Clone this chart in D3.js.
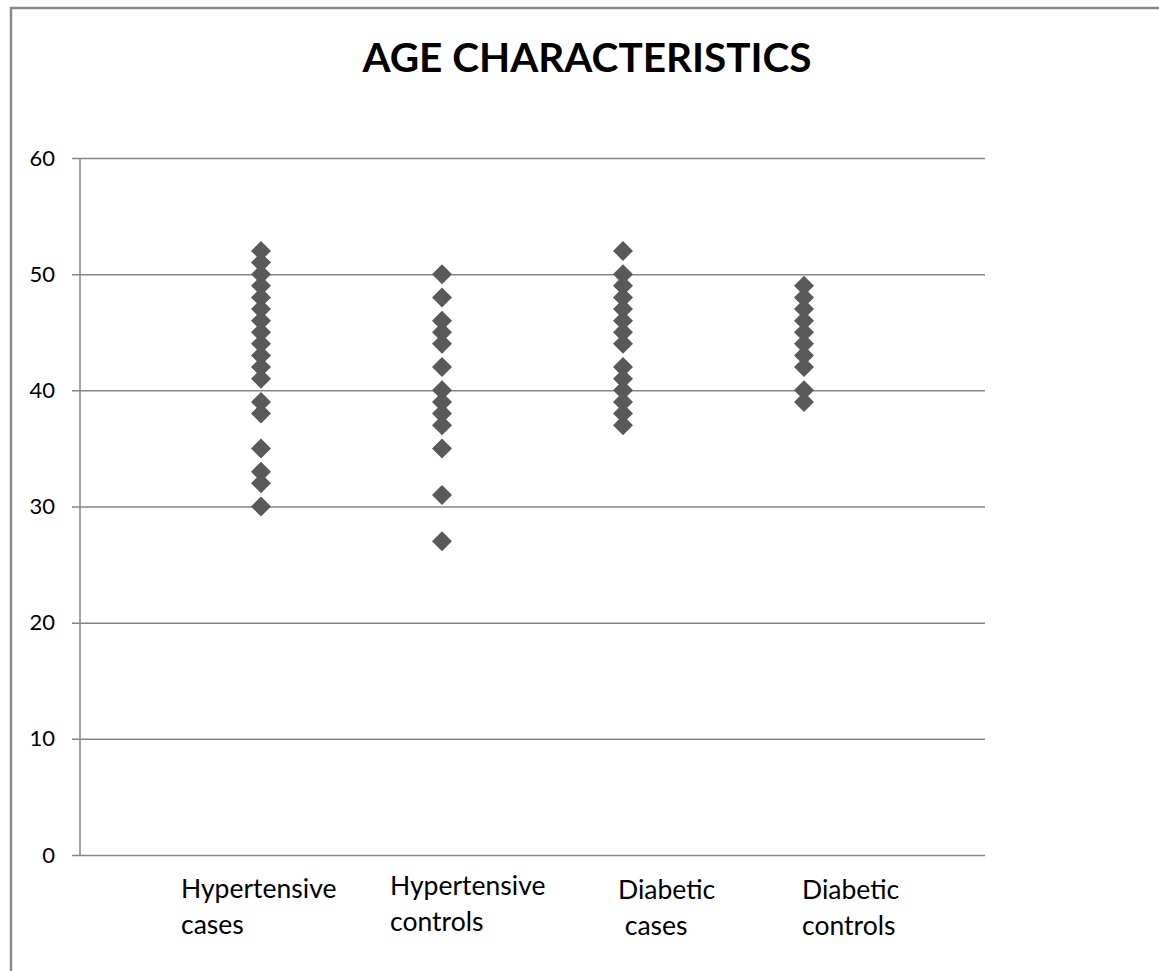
<!DOCTYPE html>
<html>
<head>
<meta charset="utf-8">
<script src="https://cdn.jsdelivr.net/npm/d3@7"></script>
<style>
  html, body { margin: 0; padding: 0; background: #fff; }
  svg { display: block; }
  text { font-family: Lato, "Open Sans", sans-serif; fill: #000; }
</style>
</head>
<body>
<svg id="chart" width="1159" height="971"></svg>
<script>
// Age (years) of each participant, by study group
const categories = ["Hypertensive cases", "Hypertensive controls", "Diabetic cases", "Diabetic controls"];
const hypertensiveCases = [52, 51, 50, 49, 48, 47, 46, 45, 44, 43, 42, 41, 39, 38, 35, 33, 32, 30];
const hypertensiveControls = [50, 48, 46, 45, 44, 42, 40, 39, 38, 37, 35, 31, 27];
const diabeticCases = [52, 50, 49, 48, 47, 46, 45, 44, 42, 41, 40, 39, 38, 37];
const diabeticControls = [49, 48, 47, 46, 45, 44, 43, 42, 40, 39];
const yTicks = [0, 10, 20, 30, 40, 50, 60];
// Category captions, broken over two lines
const categoryLines = [["Hypertensive", "cases"], ["Hypertensive", "controls"], ["Diabetic", " cases"], ["Diabetic", "controls"]];

const groups = [hypertensiveCases, hypertensiveControls, diabeticCases, diabeticControls];

// layout
const plot = { left: 80, right: 985, top: 158, bottom: 855 };
const captionLeft = [181, 390, 618, 802];
const captionBase = [898, 895, 899, 899];
const lineGap = 36;

const svg = d3.select("#chart");

// outer chart border
svg.append("rect")
  .attr("x", 11).attr("y", 8)
  .attr("width", 1200).attr("height", 1000)
  .attr("fill", "#fff")
  .attr("stroke", "#8a8a8a")
  .attr("stroke-width", 2.5);

const x = d3.scaleLinear().domain([0, categories.length + 1]).range([plot.left, plot.right]);
const y = d3.scaleLinear().domain([0, 60]).range([plot.bottom, plot.top]);

// horizontal gridlines + y axis labels
const yAxis = d3.axisLeft(y)
  .tickValues(yTicks)
  .tickSize(-(plot.right - plot.left))
  .tickPadding(25)
  .tickFormat(d3.format("d"));

const gy = svg.append("g")
  .attr("transform", `translate(${plot.left},0)`)
  .call(yAxis);
gy.select(".domain").remove();
gy.selectAll(".tick line")
  .attr("x1", -8)
  .attr("stroke", "#868686")
  .attr("stroke-width", 1.5);
gy.selectAll(".tick text")
  .attr("font-size", 22)
  .attr("font-family", "Lato, sans-serif")
  .attr("fill", "#000");

// vertical axis line
svg.append("line")
  .attr("x1", plot.left).attr("x2", plot.left)
  .attr("y1", y(60)).attr("y2", y(0))
  .attr("stroke", "#868686")
  .attr("stroke-width", 1.5);

// diamond markers
const diamond = d3.symbol().type(d3.symbolSquare).size(200);
groups.forEach((vals, i) => {
  svg.append("g")
    .selectAll("path")
    .data(vals)
    .join("path")
    .attr("d", diamond)
    .attr("transform", d => `translate(${x(i + 1)},${y(d)}) rotate(45)`)
    .attr("fill", "#595959");
});

// title
svg.append("text")
  .attr("x", 587).attr("y", 72)
  .attr("text-anchor", "middle")
  .attr("font-size", 40.5)
  .attr("font-weight", "bold")
  .text("AGE CHARACTERISTICS");

// category captions
categoryLines.forEach((lines, i) => {
  const t = svg.append("text")
    .attr("x", captionLeft[i])
    .attr("y", captionBase[i])
    .attr("font-size", 26.5)
    .attr("xml:space", "preserve");
  lines.forEach((ln, k) => {
    t.append("tspan")
      .attr("x", captionLeft[i])
      .attr("y", captionBase[i] + k * lineGap)
      .text(ln);
  });
});
</script>
</body>
</html>
